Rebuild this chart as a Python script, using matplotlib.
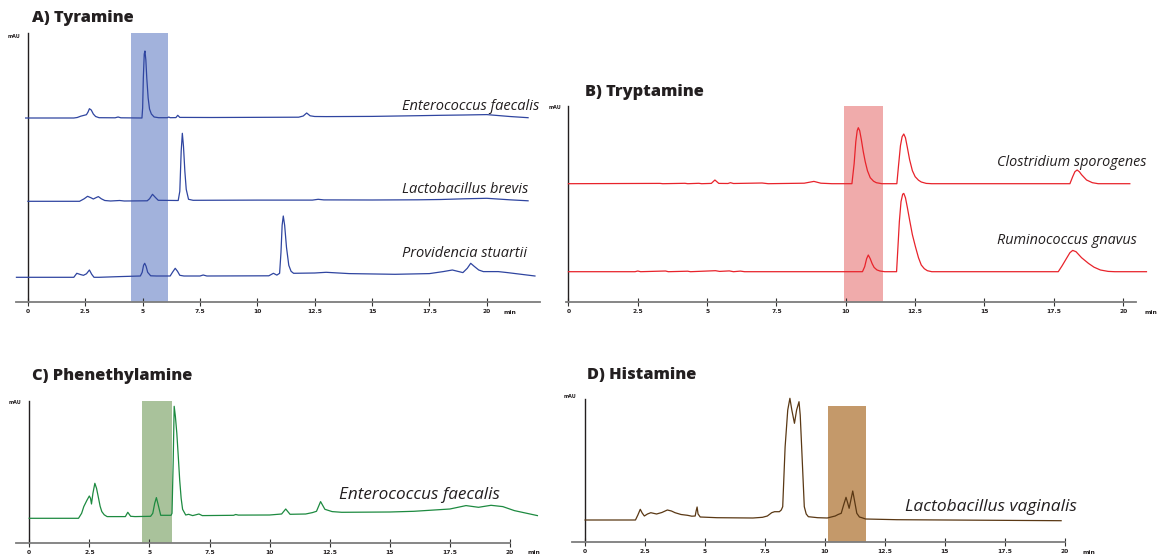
import matplotlib
matplotlib.use('Agg')
import matplotlib.pyplot as plt

_W, _H = 1166, 559

# Retention time (min) and signal above each trace's baseline (mAU, arbitrary).
_A_FAECALIS = [
    (-0.1, 0), (2.0, 0), (2.15, 0.5), (2.3, 1.8), (2.45, 2.7), (2.55, 3.3),
    (2.62, 6), (2.68, 9.3), (2.76, 8), (2.85, 4), (2.95, 1.5), (3.1, 0.3),
    (3.8, 0.2), (3.93, 1), (4.05, 0.2), (4.97, 0), (5.0, 10), (5.03, 40),
    (5.07, 64), (5.1, 67), (5.14, 58), (5.18, 40), (5.24, 20), (5.3, 9),
    (5.38, 4), (5.5, 1), (5.7, 0.3), (6.08, 0.3), (6.14, 1), (6.2, 0.3),
    (6.45, 0.4), (6.53, 2.7), (6.62, 0.6), (8, 0.5), (11.8, 0.8), (12.0, 2),
    (12.15, 5), (12.3, 2.2), (12.5, 1.5), (13, 1.4), (15, 1.6), (17, 2.3),
    (18, 2.7), (19, 3), (20, 3.4), (21, 1.5), (21.8, 0.3)]
_A_BREVIS = [
    (0, 0), (2.25, 0), (2.45, 2.5), (2.6, 5), (2.75, 3.5), (2.85, 2.3),
    (3.0, 4), (3.07, 4.7), (3.2, 2.5), (3.35, 0.8), (3.6, 0.3), (4.0, 0.8),
    (4.2, 0.3), (5.2, 0.5), (5.3, 2.5), (5.43, 7), (5.55, 4), (5.68, 1),
    (6.55, 0.8), (6.62, 10), (6.68, 50), (6.73, 68), (6.78, 55), (6.84, 30),
    (6.9, 12), (7.0, 2), (7.2, 1), (10, 1.2), (12.4, 1.2), (12.65, 2),
    (12.9, 1.4), (15, 1.3), (17, 1.5), (18, 1.8), (19, 2.5), (20, 3),
    (21, 1.5), (21.8, 0.5)]
_A_STUARTII = [
    (-0.5, 0), (2.0, 0), (2.13, 4), (2.3, 2.7), (2.42, 2), (2.55, 3.5),
    (2.68, 7.3), (2.78, 3), (2.88, 0), (3.1, 0), (4.0, 0.7), (4.9, 1.3),
    (4.98, 5), (5.04, 12), (5.09, 14), (5.15, 11), (5.22, 5), (5.35, 1.5),
    (5.6, 1.3), (6.2, 1.3), (6.3, 5), (6.42, 9), (6.52, 6), (6.62, 2),
    (6.8, 1.3), (7.5, 1.3), (7.64, 2.3), (7.8, 1.3), (10.5, 1.5), (10.7, 4),
    (10.85, 2.2), (10.97, 4), (11.03, 25), (11.08, 52), (11.13, 61.3),
    (11.19, 52), (11.27, 30), (11.37, 12), (11.47, 6), (11.58, 4),
    (12.5, 4.3), (13, 5), (14, 3.7), (16, 3), (17.5, 3.7), (18.1, 5.7),
    (18.5, 7.3), (18.96, 4.7), (19.15, 9), (19.3, 14), (19.45, 11),
    (19.65, 7.3), (19.85, 5.7), (20.5, 5.7), (20.9, 4.7), (22.1, 1.3)]

_B_SPOROGENES = [
    (0, 0), (3.3, 0.3), (3.4, 0), (4.2, 0.4), (4.3, 0), (4.7, 0.4), (4.8, 0),
    (5.15, 0.3), (5.28, 3.7), (5.42, 0.3), (5.75, 0.2), (5.84, 1), (5.95, 0.2),
    (6.98, 0.7), (7.2, 0), (8.5, 0.5), (8.85, 2.3), (9.1, 0.5), (9.5, 0),
    (10.22, 0), (10.3, 20), (10.36, 42), (10.41, 53), (10.45, 56),
    (10.5, 53), (10.56, 44), (10.63, 32), (10.7, 22), (10.78, 13),
    (10.88, 6), (11.0, 2.5), (11.1, 1), (11.3, 0), (11.84, 0), (11.9, 18),
    (11.97, 38), (12.03, 47), (12.09, 49.7), (12.15, 46), (12.22, 36),
    (12.3, 24), (12.4, 13), (12.5, 7), (12.62, 3.5), (12.72, 1.7),
    (12.9, 0.3), (13.1, 0), (18.08, 0), (18.18, 7), (18.26, 12),
    (18.34, 13.7), (18.42, 12), (18.5, 9), (18.68, 3.7), (18.89, 1),
    (19.1, 0), (20.24, 0)]
_B_GNAVUS = [
    (0, 0), (2.4, 0), (2.5, 0.7), (2.6, 0), (3.5, 0.7), (3.6, 0), (4.3, 0.5),
    (4.4, 0), (5.3, 1), (5.45, 0.3), (5.8, 0.8), (5.95, 0), (6.2, 0.6),
    (6.35, 0), (10.6, 0), (10.68, 5), (10.75, 13), (10.81, 16.7), (10.88, 13),
    (10.95, 8), (11.02, 4.3), (11.12, 1.8), (11.23, 0.7), (11.4, 0),
    (11.83, 0), (11.87, 20), (11.93, 50), (11.99, 70), (12.05, 77.5),
    (12.09, 78.3), (12.15, 74), (12.22, 64), (12.3, 51.7), (12.4, 37),
    (12.51, 25), (12.62, 14), (12.72, 6.7), (12.83, 3), (12.94, 1),
    (13.1, 0), (17.66, 0), (17.8, 6), (17.95, 13), (18.08, 19),
    (18.18, 21.3), (18.3, 20), (18.5, 14), (18.75, 8.3), (18.95, 4.5),
    (19.18, 1.7), (19.46, 0.3), (19.7, 0), (20.84, 0)]

_C_FAECALIS = [
    (0, 0), (2.05, 0), (2.18, 5), (2.27, 11.7), (2.4, 18), (2.5, 22.3),
    (2.55, 20), (2.59, 14.3), (2.65, 25), (2.73, 35), (2.8, 30), (2.87, 21.7),
    (2.95, 12), (3.02, 6.7), (3.12, 3.5), (3.24, 1.7), (4.0, 1.7), (4.1, 6),
    (4.22, 2), (4.4, 1.7), (5.05, 2), (5.14, 5), (5.22, 15), (5.29, 20.7),
    (5.36, 14), (5.47, 3), (5.9, 3), (5.94, 5), (5.99, 58), (6.03, 112),
    (6.08, 102), (6.14, 85), (6.2, 62), (6.26, 38), (6.32, 20),
    (6.38, 9), (6.51, 3.3), (6.63, 4), (6.8, 2.7), (7.06, 4.3), (7.2, 2.7),
    (8.5, 3), (8.59, 3.8), (8.7, 3.2), (10.0, 3.3), (10.5, 4.3),
    (10.67, 9.3), (10.85, 4), (11.5, 4.3), (11.78, 5.7), (11.95, 7),
    (12.12, 16.7), (12.3, 9), (12.6, 6.7), (13, 6), (15, 6.3), (16, 7),
    (17.5, 9.3), (18.17, 12.7), (18.69, 11), (19.21, 13), (19.7, 11.7),
    (20.18, 7.7), (21.14, 2.7)]

_D_VAGINALIS = [
    (0, 0), (2.1, 0), (2.2, 5), (2.3, 10.7), (2.38, 7), (2.47, 4), (2.6, 6),
    (2.74, 7.3), (2.98, 6), (3.2, 7.5), (3.43, 10), (3.6, 9), (3.75, 7.3),
    (4.0, 5.5), (4.27, 4.7), (4.45, 3.8), (4.59, 4), (4.63, 9), (4.67, 13),
    (4.71, 6), (4.8, 3), (5.5, 2.3), (7.0, 2), (7.4, 2.7), (7.6, 4),
    (7.78, 7.3), (7.9, 8.3), (8.1, 8.3), (8.18, 10), (8.24, 13.3),
    (8.34, 73), (8.45, 110), (8.54, 121.7), (8.62, 110), (8.73, 96.7),
    (8.82, 110), (8.92, 118.3), (8.97, 105), (9.03, 73), (9.14, 13.3),
    (9.22, 6), (9.31, 3.3), (9.7, 2.3), (10.1, 2), (10.43, 4), (10.55, 5.5),
    (10.68, 6.7), (10.78, 15), (10.88, 22.7), (10.95, 17), (11.01, 11.7),
    (11.1, 22), (11.16, 29), (11.23, 20), (11.33, 6.7), (11.44, 3),
    (11.54, 2.3), (11.7, 1), (13, 0.3), (19.85, -0.7)]

# Retention window of the standard (min).
_A_WINDOW = (4.51, 6.1)
_B_WINDOW = (9.93, 11.35)
_C_WINDOW = (4.7, 5.94)
_D_WINDOW = (10.12, 11.73)

_TICKS = [0, 2.5, 5, 7.5, 10, 12.5, 15, 17.5, 20]
_TICK_LABELS = ['0', '2.5', '5', '7.5', '10', '12.5', '15', '17.5', '20']

_TITLE_FONT = dict(family='Open Sans', fontweight='heavy', fontsize=11.8,
                   color='#231f20')
_LABEL_FONT = dict(family='Open Sans', style='italic', color='#231f20')


def _panel(fig, px_left, px_top, px_right, px_bottom, xlim, ylim):
  ax = fig.add_axes([px_left / _W, 1 - px_bottom / _H,
                     (px_right - px_left) / _W, (px_bottom - px_top) / _H])
  ax.set_xlim(*xlim)
  ax.set_ylim(*ylim)
  ax.patch.set_visible(False)
  for side in ('top', 'right'):
    ax.spines[side].set_visible(False)
  ax.spines['left'].set_position(('data', 0))
  ax.spines['left'].set_color('#231f20')
  ax.spines['left'].set_linewidth(1.0)
  ax.spines['bottom'].set_color('#7d7d7d')
  ax.spines['bottom'].set_linewidth(1.3)
  ax.set_yticks([])
  ax.set_xticks(_TICKS)
  ax.set_xticklabels(_TICK_LABELS, fontweight='bold', family='DejaVu Sans')
  ax.tick_params(axis='x', direction='inout', length=5.5, width=0.8,
                 color='#333333', labelsize=4.3, pad=2.5,
                 labelcolor='#231f20')
  ax.annotate('min', xy=(21, 0), xycoords=('data', 'axes fraction'),
              xytext=(0, -10), textcoords='offset pixels', ha='center',
              va='center', fontsize=4.3, fontweight='bold', color='#231f20',
              annotation_clip=False)
  return ax


def _trace(ax, points, offset, color):
  t = [p[0] for p in points]
  y = [p[1] + offset for p in points]
  ax.plot(t, y, color=color, lw=0.9, clip_on=False, zorder=3,
          solid_joinstyle='round')


def main():
  fig = plt.figure(figsize=(_W / 100, _H / 100), dpi=100)

  # A) Tyramine
  ax = _panel(fig, 16, 33, 540, 302, (-0.52, 22.32), (0, 269))
  ax.axvspan(*_A_WINDOW, color='#a2b2dc', lw=0, zorder=1)
  blue = '#2f45a0'
  _trace(ax, _A_FAECALIS, 184, blue)
  _trace(ax, _A_BREVIS, 100.7, blue)
  _trace(ax, _A_STUARTII, 24.7, blue)
  ax.text(16.3, 192, 'Enterococcus faecalis', fontsize=10.5, **_LABEL_FONT)
  ax.text(16.3, 109.3, 'Lactobacillus brevis', fontsize=10.5, **_LABEL_FONT)
  ax.text(16.3, 45.3, 'Providencia stuartii', fontsize=10.5, **_LABEL_FONT)

  # B) Tryptamine
  ax = _panel(fig, 565.7, 106, 1136.2, 302, (-0.1, 20.47), (0, 196))
  ax.axvspan(*_B_WINDOW, color='#f0abab', lw=0, zorder=1)
  red = '#e8232b'
  _trace(ax, _B_SPOROGENES, 118.3, red)
  _trace(ax, _B_GNAVUS, 30.3, red)
  ax.text(15.44, 136.3, 'Clostridium sporogenes', fontsize=10.4,
          **_LABEL_FONT)
  ax.text(15.44, 58, 'Ruminococcus gnavus', fontsize=10.4, **_LABEL_FONT)

  # C) Phenethylamine
  ax = _panel(fig, 16, 401, 510, 543, (-0.55, 20.0), (0, 142))
  ax.axvspan(*_C_WINDOW, color='#a9c29b', lw=0, zorder=1)
  _trace(ax, _C_FAECALIS, 24.7, '#1d8a40')
  ax.text(12.87, 43.7, 'Enterococcus faecalis', fontsize=12.3, **_LABEL_FONT)

  # D) Histamine
  ax = _panel(fig, 572.4, 399, 1065.2, 542, (-0.53, 20.02), (0, 143))
  ax.axvspan(*_D_WINDOW, ymax=0.951, color='#c4996a', lw=0, zorder=1)
  _trace(ax, _D_VAGINALIS, 22, '#5a3814')
  ax.text(13.34, 31.3, 'Lactobacillus vaginalis', fontsize=12.5,
          **_LABEL_FONT)

  fig.text(32 / _W, 1 - 21.5 / _H, 'A) Tyramine', va='baseline', **_TITLE_FONT)
  fig.text(585 / _W, 1 - 96.5 / _H, 'B) Tryptamine', va='baseline',
           **_TITLE_FONT)
  fig.text(32 / _W, 1 - 379.5 / _H, 'C) Phenethylamine', va='baseline',
           **_TITLE_FONT)
  fig.text(587 / _W, 1 - 379.5 / _H, 'D) Histamine', va='baseline',
           **_TITLE_FONT)

  for x, y in ((8, 36), (549, 108), (9, 402), (564, 396)):
    fig.text(x / _W, 1 - y / _H, 'mAU', fontsize=3.5, fontweight='bold',
             va='center', color='#231f20')

  fig.savefig('out.png', dpi=100)


if __name__ == '__main__':
  main()
